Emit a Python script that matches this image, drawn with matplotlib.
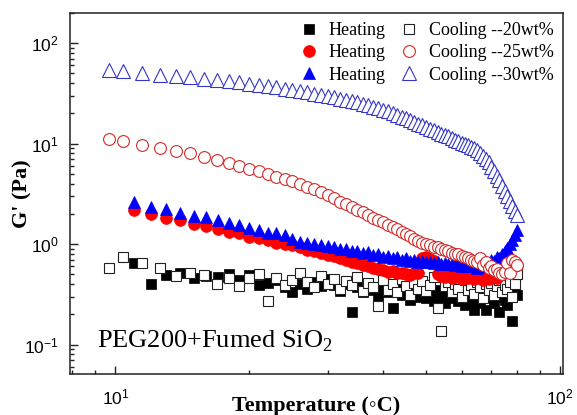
import matplotlib
matplotlib.use("Agg")
import matplotlib.pyplot as plt

plt.rcParams["font.family"] = ["Liberation Serif", "DejaVu Serif"]

# temperatures (deg C)
t_cool = [9.7, 10.4, 11.5, 12.6, 13.7, 14.7, 15.8, 16.9, 18, 19,
          20, 21, 22, 23, 24, 25, 26, 27, 28, 29,
          30, 31, 32, 33, 34, 35, 36, 37, 38, 39,
          40, 41, 42, 43, 44, 45, 46, 47, 48, 49,
          50, 51, 52, 53, 54, 55, 56, 57, 58, 59,
          60, 61, 62, 63, 64, 65, 66, 67, 68, 69,
          70, 71, 72, 73, 74, 75, 76, 77, 78, 79, 80]
t_heat = [11, 12, 13, 14, 15, 16, 17, 18, 19, 20,
          21, 22, 23, 24, 25, 26, 27, 28, 29, 30,
          31, 32, 33, 34, 35, 36, 37, 38, 39, 40,
          41, 42, 43, 44, 45, 46, 47, 48, 49, 50,
          51, 52, 53, 54, 55, 56, 57, 58, 59, 60,
          61, 62, 63, 64, 65, 66, 67, 68, 69, 70,
          71, 72, 73, 74, 75, 76, 77, 78, 79, 80]

# G' (Pa)
g_heat20 = [0.65, 0.40, 0.49, 0.51, 0.46, 0.48, 0.47, 0.50, 0.44, 0.49,
            0.39, 0.41, 0.44, 0.375, 0.33, 0.40, 0.36, 0.42, 0.38, 0.45,
            0.39, 0.34, 0.40, 0.21, 0.37, 0.33, 0.41, 0.35, 0.30, 0.37,
            0.33, 0.23, 0.36, 0.31, 0.38, 0.28, 0.34, 0.30, 0.36, 0.29,
            0.33, 0.27, 0.35, 0.30, 0.26, 0.33, 0.29, 0.36, 0.27, 0.31,
            0.25, 0.34, 0.28, 0.22, 0.32, 0.26, 0.35, 0.22, 0.29, 0.33,
            0.26, 0.30, 0.21, 0.34, 0.28, 0.25, 0.32, 0.17, 0.38, 0.31]
g_cool20 = [0.58, 0.74, 0.65, 0.58, 0.48, 0.52, 0.49, 0.40, 0.46, 0.38,
            0.46, 0.50, 0.27, 0.46, 0.39, 0.44, 0.51, 0.42, 0.37, 0.48,
            0.40, 0.45, 0.36, 0.43, 0.39, 0.47, 0.34, 0.41, 0.37, 0.24,
            0.44, 0.35, 0.40, 0.33, 0.45, 0.38, 0.31, 0.41, 0.36, 0.43,
            0.34, 0.39, 0.47, 0.23, 0.135, 0.38, 0.42, 0.33, 0.40, 0.36,
            0.30, 0.44, 0.35, 0.39, 0.32, 0.42, 0.37, 0.29, 0.40, 0.35,
            0.41, 0.31, 0.38, 0.44, 0.33, 0.39, 0.36, 0.42, 0.30, 0.40, 0.50]
g_heat25 = [2.17, 2.0, 1.82, 1.73, 1.6, 1.5, 1.4, 1.32, 1.28, 1.17,
            1.15, 1.1, 1.02, 1.0, 0.97, 0.93, 0.88, 0.85, 0.81, 0.78,
            0.76, 0.73, 0.70, 0.67, 0.65, 0.62, 0.60, 0.58, 0.56, 0.55,
            0.53, 0.54, 0.51, 0.52, 0.50, 0.49, 0.52, 0.51, 0.72, 0.74,
            0.71, 0.68, 0.50, 0.48, 0.47, 0.49, 0.46, 0.47, 0.48, 0.45,
            0.47, 0.46, 0.48, 0.45, 0.47, 0.46, 0.44, 0.47, 0.45, 0.46,
            0.48, 0.46, 0.50, 0.52, 0.55, 0.57, 0.60, 0.63, 0.61, 0.62]
g_cool25 = [11.0, 10.5, 9.7, 9.1, 8.5, 8.0, 7.4, 6.9, 6.4, 6.0,
            5.6, 5.3, 5.0, 4.7, 4.45, 4.2, 3.95, 3.7, 3.5, 3.3,
            3.05, 2.85, 2.65, 2.5, 2.35, 2.2, 2.07, 1.95, 1.83, 1.73,
            1.64, 1.56, 1.48, 1.40, 1.33, 1.26, 1.19, 1.13, 1.07, 1.03,
            0.99, 0.97, 0.94, 0.93, 0.90, 0.87, 0.85, 0.82, 0.80, 0.79,
            0.76, 0.75, 0.72, 0.70, 0.68, 0.66, 0.73, 0.62, 0.67, 0.58,
            0.60, 0.55, 0.57, 0.52, 0.50, 0.53, 0.65, 0.51, 0.70, 0.66, 0.62]
g_heat30 = [2.6, 2.35, 2.22, 2.05, 1.9, 1.85, 1.75, 1.63, 1.55, 1.45,
            1.38, 1.30, 1.28, 1.22, 1.12, 1.06, 1.03, 1.0, 0.97, 0.95,
            0.93, 0.89, 0.90, 0.85, 0.86, 0.81, 0.83, 0.77, 0.79, 0.74,
            0.76, 0.72, 0.74, 0.70, 0.72, 0.68, 0.70, 0.67, 0.68, 0.66,
            0.67, 0.65, 0.66, 0.64, 0.65, 0.63, 0.64, 0.62, 0.63, 0.61,
            0.62, 0.60, 0.61, 0.60, 0.58, 0.61, 0.60, 0.66, 0.63, 0.70,
            0.68, 0.74, 0.72, 0.80, 0.86, 0.92, 1.0, 1.1, 1.22, 1.38]
g_cool30 = [54, 53, 50, 48.5, 47, 45.5, 44.3, 43, 41.8, 40.6,
            39.5, 38.4, 37.3, 36.2, 35.2, 34.2, 33.2, 32.3, 31.4, 30.5,
            29.7, 28.9, 28.1, 27.3, 26.5, 25.7, 24.9, 24.1, 23.3, 22.5,
            21.7, 20.9, 20.1, 19.3, 18.5, 17.8, 17.1, 16.4, 15.8, 15.2,
            14.6, 14.0, 13.5, 13.0, 12.6, 12.2, 11.8, 11.4, 10.9, 10.5,
            10.2, 9.9, 9.6, 9.3, 9.0, 8.6, 8.1, 7.6, 7.1, 6.5,
            5.9, 5.3, 4.8, 4.3, 3.8, 3.4, 3.0, 2.7, 2.4, 2.15, 1.95]

fig = plt.figure(figsize=(5.77, 4.15), dpi=100)
ax = fig.add_axes([0.121, 0.099, 0.855, 0.870])

lw_open = 0.8
h20, = ax.plot(t_heat, g_heat20, "s", ms=7, mfc="black", mec="black", mew=0.5, label="Heating")
c20, = ax.plot(t_cool, g_cool20, "s", ms=7.5, mfc="white", mec="#222222", mew=lw_open,
               label="Cooling --20wt%")
h25, = ax.plot(t_heat, g_heat25, "o", ms=8.5, mfc="#ff0000", mec="#ff0000", mew=0.5, label="Heating")
h30, = ax.plot(t_heat, g_heat30, "^", ms=9, mfc="#0000ff", mec="#0000ff", mew=0.5, label="Heating")
c25, = ax.plot(t_cool, g_cool25, "o", ms=8.5, mfc="white", mec="#d42a2a", mew=lw_open,
               label="Cooling --25wt%")
c30, = ax.plot(t_cool, g_cool30, "^", ms=9.5, mfc="white", mec="#3535c8", mew=lw_open,
               label="Cooling --30wt%")

ax.set_xscale("log")
ax.set_yscale("log")
ax.set_xlim(7.9, 101.5)
ax.set_ylim(0.051, 200)

for sp in ax.spines.values():
    sp.set_linewidth(1.1)
    sp.set_color("#222222")
ax.tick_params(which="both", direction="in", top=False, right=False, width=1.0, color="#222222")
ax.tick_params(which="major", length=6, pad=8, labelsize=12.5)
ax.tick_params(which="minor", length=3)
for lab in ax.get_xticklabels() + ax.get_yticklabels():
    lab.set_family(["Liberation Sans", "DejaVu Sans"])
ax.tick_params(axis="x", pad=10)

ax.set_xlabel("Temperature (\u25e6C)", fontsize=16, fontweight="bold")
ax.xaxis.set_label_coords(0.5, -0.062)
ax.set_ylabel("G' (Pa)", fontsize=16, fontweight="bold")
ax.yaxis.set_label_coords(-0.075, 0.5)

ax.text(0.055, 0.091, "PEG200+Fumed SiO$_\\mathregular{2}$", transform=ax.transAxes,
        fontsize=19, va="center", ha="left")

ax.legend(handles=[h20, h25, h30, c20, c25, c30], ncol=2, loc="upper right",
          bbox_to_anchor=(1.0, 1.0), frameon=False, fontsize=13,
          handlelength=1.0, handletextpad=0.6, columnspacing=0.8,
          labelspacing=0.3, borderpad=0.3, borderaxespad=0.2, numpoints=1)

fig.savefig("out.png", dpi=100)
